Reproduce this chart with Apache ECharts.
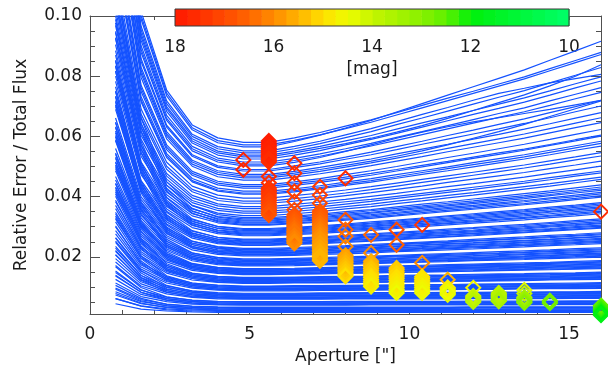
<!DOCTYPE html>
<html>
<head>
<meta charset="utf-8">
<script src="https://cdn.jsdelivr.net/npm/echarts@6/dist/echarts.min.js"></script>
<style>
  html, body { margin: 0; padding: 0; background: #fff; }
  #chart { width: 608px; height: 370px; }
</style>
</head>
<body>
<div id="chart"></div>
<script>
// Aperture radii at which every growth curve was measured [arcsec]
const apertures = [0.8, 1.6, 2.4, 3.2, 4.0, 4.8, 5.6, 6.4, 7.2, 8.0, 8.8, 9.6, 10.4, 11.2, 12.0, 12.8, 13.6, 14.4, 15.2, 16.0];

// Relative error / total flux per star, one row per star, one value per aperture
const curves = [
  [.1639,.0989,.0735,.0622,.0579,.0565,.0565,.0583,.0604,.0628,.0653,.0681,.0709,.0737,.0765,.0793,.0821,.0853,.0884,.0916],
  [.1682,.1015,.0754,.0638,.0595,.0580,.0580,.0595,.0613,.0634,.0655,.0679,.0703,.0727,.0750,.0774,.0798,.0825,.0852,.0879],
  [.1601,.0966,.0718,.0607,.0566,.0552,.0552,.0567,.0584,.0605,.0626,.0649,.0673,.0696,.0720,.0743,.0760,.0778,.0792,.0806],
  [.1581,.0954,.0709,.0600,.0559,.0545,.0545,.0559,.0576,.0596,.0616,.0639,.0661,.0684,.0707,.0730,.0752,.0778,.0803,.0829],
  [.1543,.0931,.0692,.0585,.0545,.0532,.0532,.0545,.0560,.0576,.0594,.0614,.0636,.0660,.0686,.0712,.0738,.0768,.0800,.0838],
  [.1523,.0919,.0683,.0578,.0538,.0525,.0525,.0538,.0553,.0572,.0590,.0610,.0631,.0652,.0673,.0693,.0714,.0737,.0761,.0784],
  [.1494,.0901,.0670,.0567,.0528,.0515,.0515,.0527,.0542,.0559,.0577,.0597,.0616,.0636,.0656,.0676,.0695,.0718,.0740,.0762],
  [.1473,.0889,.0660,.0559,.0521,.0508,.0508,.0520,.0534,.0551,.0568,.0587,.0606,.0625,.0644,.0663,.0682,.0703,.0725,.0746],
  [.1456,.0879,.0653,.0552,.0515,.0502,.0502,.0514,.0530,.0550,.0572,.0594,.0614,.0632,.0648,.0662,.0676,.0690,.0705,.0720],
  [.1407,.0849,.0631,.0534,.0497,.0485,.0485,.0496,.0509,.0524,.0539,.0556,.0574,.0591,.0608,.0625,.0643,.0662,.0682,.0701],
  [.1375,.0830,.0616,.0521,.0486,.0474,.0474,.0484,.0497,.0511,.0525,.0542,.0558,.0574,.0591,.0607,.0624,.0642,.0661,.0679],
  [.1357,.0819,.0608,.0515,.0480,.0468,.0468,.0478,.0490,.0504,.0518,.0534,.0552,.0572,.0594,.0616,.0640,.0666,.0692,.0718],
  [.1320,.0796,.0592,.0501,.0466,.0455,.0455,.0465,.0476,.0489,.0503,.0518,.0533,.0549,.0564,.0579,.0594,.0612,.0629,.0646],
  [.1276,.0770,.0572,.0484,.0451,.0440,.0440,.0449,.0460,.0473,.0486,.0500,.0515,.0530,.0544,.0559,.0574,.0590,.0607,.0623],
  [.1241,.0749,.0556,.0471,.0439,.0428,.0428,.0437,.0447,.0459,.0471,.0485,.0499,.0513,.0527,.0540,.0554,.0570,.0585,.0601],
  [.1212,.0732,.0543,.0460,.0428,.0418,.0418,.0426,.0436,.0448,.0460,.0473,.0486,.0499,.0513,.0526,.0539,.0554,.0569,.0584],
  [.1183,.0714,.0530,.0449,.0418,.0408,.0408,.0416,.0426,.0437,.0448,.0461,.0474,.0486,.0499,.0512,.0525,.0539,.0554,.0568],
  [.1146,.0691,.0514,.0435,.0405,.0395,.0395,.0403,.0412,.0422,.0433,.0445,.0457,.0469,.0481,.0493,.0505,.0519,.0532,.0546],
  [.1096,.0662,.0491,.0416,.0387,.0378,.0378,.0385,.0393,.0403,.0413,.0424,.0435,.0447,.0458,.0469,.0480,.0493,.0505,.0518],
  [.1064,.0642,.0477,.0404,.0376,.0367,.0367,.0374,.0382,.0391,.0401,.0411,.0422,.0433,.0443,.0454,.0465,.0477,.0489,.0501],
  [.1021,.0616,.0458,.0387,.0361,.0352,.0352,.0358,.0366,.0375,.0384,.0394,.0404,.0414,.0424,.0435,.0445,.0456,.0468,.0479],
  [.0977,.0590,.0438,.0371,.0345,.0337,.0337,.0343,.0350,.0359,.0367,.0377,.0386,.0396,.0405,.0415,.0425,.0435,.0446,.0457],
  [.0945,.0571,.0424,.0359,.0334,.0326,.0326,.0331,.0338,.0345,.0353,.0361,.0369,.0378,.0386,.0395,.0403,.0413,.0422,.0432],
  [.0925,.0558,.0415,.0351,.0327,.0319,.0319,.0324,.0330,.0337,.0345,.0353,.0361,.0369,.0377,.0385,.0393,.0403,.0412,.0421],
  [.0905,.0546,.0406,.0343,.0320,.0312,.0312,.0317,.0323,.0329,.0336,.0344,.0352,.0360,.0367,.0375,.0383,.0392,.0400,.0409],
  [.0885,.0534,.0397,.0336,.0313,.0305,.0305,.0310,.0315,.0322,.0328,.0336,.0343,.0351,.0358,.0365,.0373,.0381,.0390,.0398],
  [.0853,.0515,.0382,.0323,.0301,.0294,.0294,.0298,.0303,.0309,.0316,.0322,.0329,.0336,.0343,.0350,.0357,.0365,.0372,.0380],
  [.0835,.0504,.0374,.0317,.0295,.0288,.0288,.0292,.0297,.0303,.0309,.0315,.0322,.0329,.0335,.0342,.0349,.0356,.0364,.0371],
  [.0818,.0494,.0367,.0310,.0289,.0282,.0282,.0286,.0291,.0296,.0302,.0308,.0315,.0321,.0328,.0334,.0340,.0348,.0355,.0362],
  [.0800,.0483,.0359,.0304,.0283,.0276,.0276,.0280,.0284,.0290,.0295,.0301,.0307,.0313,.0319,.0325,.0331,.0338,.0345,.0352],
  [.0783,.0473,.0351,.0297,.0277,.0270,.0270,.0274,.0278,.0283,.0288,.0294,.0300,.0306,.0312,.0317,.0323,.0330,.0336,.0343],
  [.0751,.0453,.0337,.0285,.0265,.0259,.0259,.0262,.0266,.0271,.0276,.0281,.0286,.0292,.0297,.0303,.0308,.0314,.0320,.0326],
  [.0734,.0443,.0329,.0278,.0259,.0253,.0253,.0256,.0260,.0265,.0269,.0274,.0279,.0284,.0289,.0295,.0300,.0305,.0311,.0317],
  [.0719,.0434,.0322,.0273,.0254,.0248,.0248,.0251,.0255,.0259,.0264,.0268,.0273,.0278,.0283,.0288,.0293,.0299,.0304,.0310],
  [.0705,.0425,.0316,.0267,.0249,.0243,.0243,.0246,.0249,.0254,.0258,.0262,.0267,.0272,.0277,.0281,.0286,.0291,.0297,.0302],
  [.0690,.0417,.0309,.0262,.0244,.0238,.0238,.0241,.0244,.0248,.0252,.0257,.0261,.0266,.0270,.0275,.0280,.0285,.0290,.0295],
  [.0661,.0399,.0296,.0251,.0234,.0228,.0228,.0231,.0234,.0237,.0241,.0245,.0249,.0253,.0258,.0262,.0266,.0271,.0275,.0280],
  [.0647,.0390,.0290,.0245,.0229,.0223,.0223,.0226,.0229,.0232,.0236,.0240,.0244,.0248,.0252,.0256,.0260,.0264,.0269,.0273],
  [.0632,.0382,.0283,.0240,.0223,.0218,.0218,.0220,.0223,.0227,.0230,.0234,.0238,.0242,.0245,.0249,.0253,.0257,.0262,.0266],
  [.0618,.0373,.0277,.0234,.0218,.0213,.0213,.0215,.0218,.0221,.0224,.0228,.0231,.0235,.0239,.0242,.0246,.0250,.0254,.0258],
  [.0603,.0364,.0270,.0229,.0213,.0208,.0208,.0210,.0213,.0216,.0219,.0222,.0226,.0229,.0233,.0236,.0239,.0243,.0247,.0251],
  [.0589,.0355,.0264,.0223,.0208,.0203,.0203,.0205,.0208,.0210,.0213,.0217,.0220,.0223,.0226,.0230,.0233,.0237,.0240,.0244],
  [.0560,.0338,.0251,.0212,.0198,.0193,.0193,.0195,.0197,.0200,.0202,.0205,.0208,.0211,.0214,.0217,.0220,.0223,.0227,.0230],
  [.0545,.0329,.0244,.0207,.0193,.0188,.0188,.0190,.0192,.0194,.0197,.0200,.0202,.0205,.0208,.0211,.0214,.0217,.0220,.0223],
  [.0531,.0320,.0238,.0201,.0188,.0183,.0183,.0185,.0187,.0189,.0191,.0194,.0197,.0199,.0202,.0204,.0207,.0210,.0213,.0216],
  [.0516,.0312,.0231,.0196,.0182,.0178,.0178,.0180,.0182,.0184,.0186,.0189,.0191,.0194,.0196,.0199,.0201,.0204,.0207,.0210],
  [.0505,.0305,.0226,.0191,.0178,.0174,.0174,.0176,.0177,.0179,.0182,.0184,.0186,.0189,.0191,.0194,.0196,.0199,.0201,.0204],
  [.0493,.0298,.0221,.0187,.0174,.0170,.0170,.0171,.0173,.0175,.0177,.0180,.0182,.0184,.0187,.0189,.0191,.0194,.0196,.0199],
  [.0467,.0282,.0209,.0177,.0165,.0161,.0161,.0162,.0164,.0166,.0168,.0170,.0172,.0174,.0176,.0178,.0180,.0182,.0185,.0187],
  [.0455,.0275,.0204,.0173,.0161,.0157,.0157,.0158,.0160,.0162,.0163,.0165,.0167,.0169,.0171,.0173,.0175,.0178,.0180,.0182],
  [.0444,.0268,.0199,.0168,.0157,.0153,.0153,.0154,.0156,.0157,.0159,.0161,.0162,.0164,.0166,.0168,.0170,.0172,.0174,.0176],
  [.0432,.0261,.0194,.0164,.0153,.0149,.0149,.0150,.0151,.0153,.0155,.0156,.0158,.0160,.0162,.0163,.0165,.0167,.0169,.0171],
  [.0421,.0254,.0189,.0160,.0149,.0145,.0145,.0146,.0147,.0149,.0150,.0152,.0154,.0155,.0157,.0159,.0160,.0162,.0164,.0166],
  [.0409,.0247,.0183,.0155,.0145,.0141,.0141,.0142,.0143,.0145,.0146,.0148,.0149,.0151,.0152,.0154,.0156,.0157,.0159,.0161],
  [.0383,.0231,.0172,.0145,.0135,.0132,.0132,.0133,.0134,.0135,.0136,.0138,.0139,.0140,.0142,.0143,.0144,.0146,.0147,.0149],
  [.0371,.0224,.0166,.0141,.0131,.0128,.0128,.0129,.0130,.0131,.0132,.0133,.0135,.0136,.0137,.0138,.0140,.0141,.0143,.0144],
  [.0360,.0217,.0161,.0136,.0127,.0124,.0124,.0125,.0126,.0127,.0128,.0129,.0130,.0131,.0133,.0134,.0135,.0136,.0138,.0139],
  [.0348,.0210,.0156,.0132,.0123,.0120,.0120,.0121,.0122,.0123,.0124,.0125,.0126,.0127,.0128,.0129,.0130,.0131,.0133,.0134],
  [.0336,.0203,.0151,.0128,.0119,.0116,.0116,.0117,.0117,.0118,.0119,.0120,.0121,.0122,.0123,.0124,.0125,.0127,.0128,.0129],
  [.0325,.0196,.0146,.0123,.0115,.0112,.0112,.0113,.0113,.0114,.0115,.0116,.0117,.0118,.0119,.0120,.0121,.0123,.0124,.0125],
  [.0299,.0180,.0134,.0113,.0106,.0103,.0103,.0104,.0104,.0105,.0106,.0107,.0108,.0108,.0109,.0110,.0111,.0112,.0113,.0114],
  [.0287,.0173,.0129,.0109,.0101,.0099,.0099,.0100,.0100,.0101,.0102,.0102,.0103,.0104,.0105,.0106,.0106,.0107,.0108,.0109],
  [.0276,.0166,.0124,.0105,.0097,.0095,.0095,.0095,.0096,.0097,.0097,.0098,.0099,.0099,.0100,.0101,.0102,.0102,.0103,.0104],
  [.0264,.0159,.0118,.0100,.0093,.0091,.0091,.0091,.0092,.0092,.0093,.0094,.0094,.0095,.0096,.0096,.0097,.0098,.0098,.0099],
  [.0252,.0152,.0113,.0096,.0089,.0087,.0087,.0087,.0088,.0088,.0089,.0090,.0090,.0091,.0092,.0092,.0093,.0094,.0094,.0095],
  [.0229,.0138,.0103,.0087,.0081,.0079,.0079,.0079,.0080,.0080,.0081,.0081,.0081,.0082,.0082,.0083,.0083,.0084,.0084,.0085],
  [.0218,.0131,.0098,.0083,.0077,.0075,.0075,.0075,.0076,.0076,.0077,.0077,.0077,.0078,.0078,.0079,.0079,.0080,.0080,.0081],
  [.0206,.0124,.0092,.0078,.0073,.0071,.0071,.0071,.0072,.0072,.0072,.0073,.0073,.0073,.0074,.0074,.0075,.0075,.0076,.0076],
  [.0194,.0117,.0087,.0074,.0069,.0067,.0067,.0067,.0067,.0068,.0068,.0068,.0069,.0069,.0069,.0070,.0070,.0070,.0071,.0071],
  [.0183,.0110,.0082,.0069,.0065,.0063,.0063,.0063,.0063,.0064,.0064,.0064,.0065,.0065,.0065,.0066,.0066,.0066,.0067,.0067],
  [.0171,.0103,.0077,.0065,.0060,.0059,.0059,.0059,.0059,.0060,.0060,.0060,.0060,.0060,.0061,.0061,.0061,.0061,.0062,.0062],
  [.0148,.0089,.0066,.0056,.0052,.0051,.0051,.0051,.0051,.0052,.0052,.0052,.0052,.0052,.0053,.0053,.0053,.0053,.0054,.0054],
  [.0136,.0082,.0061,.0052,.0048,.0047,.0047,.0047,.0047,.0047,.0048,.0048,.0048,.0048,.0048,.0048,.0048,.0049,.0049,.0049],
  [.0125,.0075,.0056,.0047,.0044,.0043,.0043,.0043,.0043,.0043,.0044,.0044,.0044,.0044,.0044,.0044,.0044,.0045,.0045,.0045],
  [.0113,.0068,.0051,.0043,.0040,.0039,.0039,.0039,.0039,.0039,.0040,.0040,.0040,.0040,.0040,.0040,.0040,.0041,.0041,.0041],
  [.0096,.0058,.0043,.0036,.0034,.0033,.0033,.0033,.0033,.0033,.0033,.0033,.0033,.0033,.0034,.0034,.0034,.0034,.0034,.0034],
  [.0084,.0051,.0038,.0032,.0030,.0029,.0029,.0029,.0029,.0029,.0029,.0029,.0029,.0029,.0030,.0030,.0030,.0030,.0030,.0030],
  [.0073,.0044,.0033,.0028,.0026,.0025,.0025,.0025,.0025,.0025,.0025,.0025,.0025,.0025,.0025,.0025,.0026,.0026,.0026,.0026],
  [.0061,.0037,.0027,.0023,.0022,.0021,.0021,.0021,.0021,.0021,.0021,.0021,.0021,.0021,.0021,.0021,.0021,.0021,.0021,.0021],
  [.0044,.0026,.0020,.0017,.0015,.0015,.0015,.0015,.0015,.0015,.0015,.0015,.0015,.0015,.0015,.0015,.0015,.0015,.0015,.0015],
  // stars whose error falls more steeply over the smallest apertures
  [.1659,.1001,.0744,.0629,.0586,.0572,.0572,.0587,.0605,.0626,.0647,.0671,.0695,.0719,.0743,.0767,.0791,.0818,.0845,.0872],
  [.1560,.0942,.0699,.0592,.0551,.0538,.0538,.0551,.0567,.0585,.0603,.0624,.0645,.0665,.0686,.0707,.0728,.0751,.0775,.0798],
  [.1421,.0858,.0637,.0539,.0502,.0490,.0490,.0502,.0515,.0531,.0548,.0566,.0584,.0603,.0621,.0640,.0658,.0679,.0699,.0720],
  [.1340,.0809,.0601,.0508,.0474,.0462,.0462,.0472,.0484,.0498,.0512,.0528,.0544,.0560,.0576,.0592,.0608,.0626,.0644,.0662],
  [.1259,.0760,.0564,.0477,.0445,.0434,.0434,.0443,.0453,.0465,.0477,.0490,.0504,.0517,.0531,.0545,.0558,.0573,.0589,.0604],
  [.1195,.0721,.0536,.0453,.0422,.0412,.0412,.0420,.0430,.0442,.0453,.0466,.0480,.0493,.0506,.0519,.0532,.0547,.0562,.0577],
  [.1117,.0674,.0501,.0424,.0395,.0385,.0385,.0393,.0402,.0412,.0423,.0435,.0447,.0459,.0471,.0483,.0495,.0508,.0522,.0535],
  [.1044,.0630,.0468,.0396,.0369,.0360,.0360,.0366,.0374,.0383,.0391,.0401,.0411,.0421,.0431,.0441,.0451,.0463,.0474,.0485],
  [.1001,.0604,.0449,.0380,.0354,.0345,.0345,.0351,.0358,.0367,.0375,.0385,.0394,.0404,.0413,.0423,.0433,.0443,.0454,.0465],
  [.1122,.0660,.0449,.0370,.0340,.0330,.0330,.0335,.0342,.0350,.0357,.0366,.0375,.0383,.0392,.0401,.0410,.0419,.0429,.0439],
  [.1095,.0644,.0438,.0361,.0332,.0322,.0322,.0327,.0333,.0341,.0348,.0356,.0365,.0373,.0381,.0390,.0398,.0407,.0417,.0426],
  [.1071,.0630,.0428,.0353,.0324,.0315,.0315,.0320,.0326,.0333,.0340,.0348,.0356,.0364,.0371,.0379,.0387,.0396,.0405,.0414],
  [.1047,.0616,.0419,.0345,.0317,.0308,.0308,.0313,.0318,.0325,.0332,.0339,.0347,.0355,.0362,.0370,.0377,.0386,.0394,.0403],
  [.0989,.0582,.0396,.0326,.0300,.0291,.0291,.0295,.0300,.0306,.0312,.0319,.0326,.0333,.0339,.0346,.0353,.0361,.0368,.0376],
  [.0969,.0570,.0388,.0319,.0294,.0285,.0285,.0289,.0294,.0300,.0305,.0312,.0318,.0325,.0331,.0338,.0344,.0351,.0359,.0366],
  [.0949,.0558,.0379,.0312,.0287,.0279,.0279,.0283,.0288,.0293,.0299,.0305,.0311,.0317,.0323,.0330,.0336,.0343,.0350,.0357],
  [.0928,.0546,.0371,.0306,.0281,.0273,.0273,.0277,.0281,.0287,.0292,.0298,.0304,.0310,.0316,.0322,.0328,.0335,.0341,.0348],
  [.0870,.0512,.0348,.0287,.0264,.0256,.0256,.0259,.0263,.0268,.0273,.0278,.0283,.0288,.0294,.0299,.0304,.0310,.0316,.0322],
  [.0850,.0500,.0340,.0280,.0258,.0250,.0250,.0253,.0257,.0261,.0266,.0271,.0276,.0281,.0286,.0291,.0296,.0302,.0307,.0313],
  [.0833,.0490,.0333,.0274,.0252,.0245,.0245,.0248,.0252,.0256,.0260,.0265,.0270,.0274,.0279,.0284,.0289,.0294,.0300,.0305],
  [.0816,.0480,.0326,.0269,.0247,.0240,.0240,.0243,.0246,.0250,.0255,.0259,.0264,.0268,.0273,.0278,.0282,.0288,.0293,.0298],
  [.0765,.0450,.0306,.0252,.0232,.0225,.0225,.0228,.0231,.0234,.0238,.0242,.0246,.0250,.0254,.0258,.0262,.0267,.0271,.0276],
  [.0748,.0440,.0299,.0246,.0227,.0220,.0220,.0222,.0225,.0229,.0232,.0236,.0240,.0244,.0247,.0251,.0255,.0259,.0264,.0268],
  [.0731,.0430,.0292,.0241,.0221,.0215,.0215,.0217,.0220,.0223,.0227,.0230,.0234,.0238,.0241,.0245,.0249,.0253,.0257,.0261],
  [.0714,.0420,.0286,.0235,.0216,.0210,.0210,.0212,.0215,.0218,.0221,.0225,.0228,.0232,.0235,.0239,.0242,.0246,.0250,.0254],
  [.0700,.0412,.0280,.0231,.0212,.0206,.0206,.0208,.0211,.0214,.0217,.0220,.0223,.0227,.0230,.0233,.0237,.0240,.0244,.0248],
  [.0646,.0380,.0258,.0213,.0196,.0190,.0190,.0192,.0194,.0196,.0199,.0202,.0205,.0208,.0211,.0213,.0216,.0220,.0223,.0226],
  [.0629,.0370,.0252,.0207,.0191,.0185,.0185,.0187,.0189,.0191,.0194,.0196,.0199,.0202,.0204,.0207,.0210,.0213,.0216,.0219],
  [.0612,.0360,.0245,.0202,.0185,.0180,.0180,.0182,.0184,.0186,.0188,.0191,.0193,.0196,.0198,.0201,.0203,.0206,.0209,.0212],
  [.0598,.0352,.0239,.0197,.0181,.0176,.0176,.0178,.0179,.0182,.0184,.0186,.0189,.0191,.0194,.0196,.0199,.0201,.0204,.0207],
  [.0585,.0344,.0234,.0193,.0177,.0172,.0172,.0174,.0175,.0177,.0180,.0182,.0184,.0187,.0189,.0192,.0194,.0197,.0199,.0202],
  [.0541,.0318,.0216,.0178,.0164,.0159,.0159,.0160,.0162,.0164,.0165,.0167,.0169,.0171,.0173,.0175,.0177,.0180,.0182,.0184],
  [.0527,.0310,.0211,.0174,.0160,.0155,.0155,.0156,.0158,.0159,.0161,.0163,.0165,.0167,.0169,.0171,.0173,.0175,.0177,.0179],
  [.0513,.0302,.0205,.0169,.0156,.0151,.0151,.0152,.0154,.0155,.0157,.0159,.0160,.0162,.0164,.0166,.0168,.0170,.0172,.0174],
  [.0500,.0294,.0200,.0165,.0151,.0147,.0147,.0148,.0149,.0151,.0153,.0154,.0156,.0158,.0160,.0161,.0163,.0165,.0167,.0169],
  [.0486,.0286,.0194,.0160,.0147,.0143,.0143,.0144,.0145,.0147,.0148,.0150,.0151,.0153,.0154,.0156,.0158,.0159,.0161,.0163],
  [.0442,.0260,.0177,.0146,.0134,.0130,.0130,.0131,.0132,.0133,.0134,.0136,.0137,.0138,.0140,.0141,.0142,.0144,.0145,.0147],
  [.0428,.0252,.0171,.0141,.0130,.0126,.0126,.0127,.0128,.0129,.0130,.0131,.0133,.0134,.0135,.0136,.0138,.0139,.0141,.0142],
  [.0415,.0244,.0166,.0137,.0126,.0122,.0122,.0123,.0124,.0125,.0126,.0127,.0128,.0129,.0131,.0132,.0133,.0134,.0136,.0137],
  [.0401,.0236,.0160,.0132,.0122,.0118,.0118,.0119,.0120,.0121,.0122,.0123,.0124,.0125,.0126,.0127,.0128,.0129,.0131,.0132],
  [.0388,.0228,.0155,.0128,.0117,.0114,.0114,.0115,.0115,.0116,.0117,.0118,.0119,.0120,.0121,.0122,.0123,.0125,.0126,.0127],
  [.0343,.0202,.0137,.0113,.0104,.0101,.0101,.0102,.0102,.0103,.0104,.0104,.0105,.0106,.0107,.0108,.0108,.0109,.0110,.0111],
  [.0330,.0194,.0132,.0109,.0100,.0097,.0097,.0097,.0098,.0099,.0099,.0100,.0101,.0101,.0102,.0103,.0104,.0104,.0105,.0106],
  [.0316,.0186,.0126,.0104,.0096,.0093,.0093,.0093,.0094,.0095,.0095,.0096,.0097,.0097,.0098,.0099,.0100,.0100,.0101,.0102],
  [.0303,.0178,.0121,.0100,.0092,.0089,.0089,.0089,.0090,.0090,.0091,.0092,.0092,.0093,.0094,.0094,.0095,.0096,.0096,.0097],
  [.0262,.0154,.0105,.0086,.0079,.0077,.0077,.0077,.0078,.0078,.0079,.0079,.0079,.0080,.0080,.0081,.0081,.0082,.0082,.0083],
  [.0248,.0146,.0099,.0082,.0075,.0073,.0073,.0073,.0074,.0074,.0074,.0075,.0075,.0075,.0076,.0076,.0077,.0077,.0078,.0078],
  [.0235,.0138,.0094,.0077,.0071,.0069,.0069,.0069,.0070,.0070,.0070,.0071,.0071,.0071,.0072,.0072,.0073,.0073,.0074,.0074],
  [.0221,.0130,.0088,.0073,.0067,.0065,.0065,.0065,.0065,.0066,.0066,.0066,.0067,.0067,.0067,.0068,.0068,.0068,.0069,.0069],
  [.0207,.0122,.0083,.0068,.0063,.0061,.0061,.0061,.0061,.0062,.0062,.0062,.0063,.0063,.0063,.0064,.0064,.0064,.0065,.0065],
  [.0167,.0098,.0067,.0055,.0050,.0049,.0049,.0049,.0049,.0049,.0050,.0050,.0050,.0050,.0050,.0050,.0050,.0051,.0051,.0051],
  [.0153,.0090,.0061,.0050,.0046,.0045,.0045,.0045,.0045,.0045,.0046,.0046,.0046,.0046,.0046,.0046,.0046,.0047,.0047,.0047],
  [.0139,.0082,.0056,.0046,.0042,.0041,.0041,.0041,.0041,.0041,.0042,.0042,.0042,.0042,.0042,.0042,.0042,.0043,.0043,.0043],
  [.0105,.0062,.0042,.0035,.0032,.0031,.0031,.0031,.0031,.0031,.0031,.0031,.0031,.0031,.0032,.0032,.0032,.0032,.0032,.0032],
  [.0092,.0054,.0037,.0030,.0028,.0027,.0027,.0027,.0027,.0027,.0027,.0027,.0027,.0027,.0027,.0027,.0027,.0027,.0027,.0027],
  [.0078,.0046,.0031,.0026,.0024,.0023,.0023,.0023,.0023,.0023,.0023,.0023,.0023,.0023,.0023,.0023,.0023,.0023,.0023,.0023],
  [.0061,.0036,.0024,.0020,.0019,.0018,.0018,.0018,.0018,.0018,.0018,.0018,.0018,.0018,.0018,.0018,.0018,.0018,.0018,.0018]
];

// Chosen (best) aperture of each star, with its relative error and magnitude
const starAperture = [4.8, 5.6, 6.4, 7.2, 8.0, 8.8, 9.6, 10.4, 11.2, 12.0, 12.8, 13.6, 14.4, 16.0];
const starError = [
  [.0522,.0489],
  [.0585,.0578,.0572,.0566,.0560,.0555,.0550,.0545,.0540,.0535,.0530,.0525,.0520,.0515,.0467,.0446,
   .0429,.0423,.0417,.0411,.0405,.0399,.0393,.0387,.0381,.0375,.0369,.0363,.0357,.0351,.0345,.0339],
  [.0511,.0478,.0445,.0417,.0384,.0356,
   .0340,.0335,.0330,.0325,.0320,.0315,.0310,.0305,.0300,.0295,.0290,.0285,.0280,.0275,.0270,.0265,.0260,.0255,.0250,.0245],
  [.0433,.0405,.0378,.0352,.0347,.0342,.0337,.0332,.0327,.0322,.0317,.0312,.0307,.0302,.0297,.0292,.0287,.0282,.0277,
   .0272,.0267,.0262,.0257,.0252,.0247,.0242,.0237,.0232,.0227,.0222,.0217,.0212,.0207,.0202,.0197,.0192,.0187],
  [.0461,.0323,.0290,.0268,.0234,.0205,.0200,.0195,.0190,.0185,.0180,.0175,.0170,.0165,.0160,.0155,.0150,.0145,.0140,.0135],
  [.0273,.0213,.0185,.0179,.0173,.0167,.0161,.0155,.0149,.0143,.0137,.0131,.0125,.0119,.0113,.0107,.0101],
  [.0290,.0240,.0163,.0157,.0151,.0145,.0139,.0133,.0127,.0121,.0115,.0109,.0103,.0097,.0091,.0085,.0080],
  [.0306,.0180,.0134,.0128,.0122,.0116,.0110,.0104,.0098,.0092,.0086,.0080],
  [.0124,.0098,.0094,.0090,.0086,.0082,.0078,.0074],
  [.0097,.0070,.0066,.0062,.0058,.0054,.0050],
  [.0080,.0076,.0072,.0068,.0064,.0060,.0056,.0052],
  [.0090,.0078,.0066,.0062,.0058,.0054,.0050,.0047],
  [.0054,.0050,.0046],
  [.0350,.0038,.0034,.0030,.0026,.0022,.0018,.0014,.0010,.0006]
];
const starMag = [
  [17.8,17.7],
  [17.9,17.9,17.9,17.8,17.8,17.8,17.8,17.7,17.7,17.7,17.7,17.6,17.6,17.6,17.6,17.5,
   17.5,17.4,17.4,17.4,17.3,17.3,17.3,17.2,17.2,17.1,17.1,17.0,17.0,16.9,16.9,16.8],
  [17.6,17.5,17.4,17.3,17.2,17.0,
   16.9,16.8,16.8,16.7,16.7,16.6,16.6,16.5,16.5,16.4,16.4,16.3,16.3,16.3,16.2,16.2,16.1,16.1,16.0,16.0],
  [17.3,17.2,17.0,16.8,16.8,16.7,16.7,16.6,16.6,16.5,16.5,16.4,16.4,16.3,16.3,16.2,16.2,16.1,16.1,
   16.0,16.0,15.9,15.9,15.9,15.8,15.8,15.8,15.7,15.7,15.7,15.6,15.6,15.6,15.5,15.5,15.5,15.5],
  [17.6,16.8,16.5,16.3,16.0,15.8,15.7,15.7,15.6,15.6,15.5,15.5,15.4,15.4,15.3,15.3,15.2,15.2,15.1,15.0],
  [16.5,16.0,15.6,15.5,15.5,15.4,15.3,15.3,15.2,15.2,15.1,15.0,15.0,14.9,14.9,14.8,14.7],
  [17.0,16.6,15.3,15.2,15.2,15.1,15.1,15.0,15.0,14.9,14.9,14.8,14.8,14.7,14.7,14.6,14.5],
  [17.4,16.0,15.0,14.9,14.9,14.8,14.8,14.7,14.7,14.6,14.6,14.5],
  [15.5,14.8,14.7,14.7,14.6,14.5,14.5,14.4],
  [14.6,14.1,14.0,14.0,13.9,13.8,13.8],
  [13.9,13.8,13.8,13.7,13.7,13.6,13.5,13.5],
  [14.3,14.0,13.5,13.4,13.3,13.2,13.1,13.0],
  [12.9,12.8,12.7],
  [17.6,12.6,12.5,12.4,12.3,12.2,12.1,12.0,11.9,11.8]
];

// Axis ticks and labels
const yMajorTicks = [0.02, 0.04, 0.06, 0.08, 0.10];
const yMinorTicks = [0.005, 0.01, 0.015, 0.025, 0.03, 0.035, 0.045, 0.05, 0.055, 0.065, 0.07, 0.075, 0.085, 0.09, 0.095];
const xLabels = [0, 5, 10, 15];
const xTicks = [1, 2, 3, 4, 5, 6, 7, 8, 9, 10, 11, 12, 13, 14, 15];
const magTicks = [18, 16, 14, 12, 10];

// Colour table for magnitude 10 ... 18 in half-magnitude steps
const magColors = ['#00ff6a', '#00fb52', '#00f73a', '#00f323', '#00f00a', '#5ef000', '#88f000', '#a8f200',
  '#c4f500', '#eefc00', '#ffe000', '#ffb400', '#ff8c00', '#ff6600', '#ff4a00', '#ff3000', '#ff1800'];

const FONT = 'DejaVu Sans';
const TEXT = '#1a1a1a';
const AXIS = '#505050';
const LINE_BLUE = '#1452ff';

const stars = [];
starAperture.forEach((ap, c) => {
  starError[c].forEach((err, k) => stars.push([ap, err, starMag[c][k]]));
});

// colour-bar cells (quarter magnitude each)
const barCells = [];
for (let m = 10; m < 18; m += 0.25) barCells.push([m, m + 0.25, m + 0.125]);

const lineSeries = curves.map(c => ({
  type: 'line',
  xAxisIndex: 0,
  yAxisIndex: 0,
  data: c.map((v, i) => [apertures[i], v]),
  symbol: 'none',
  silent: true,
  clip: true,
  z: 2,
  lineStyle: { color: LINE_BLUE, width: 1.2 }
}));

const diamondSeries = {
  type: 'custom',
  xAxisIndex: 0,
  yAxisIndex: 0,
  data: stars,
  z: 3,
  silent: true,
  renderItem: (params, api) => {
    const p = api.coord([api.value(0), api.value(1)]);
    const h = 7;
    return {
      type: 'polygon',
      shape: { points: [[p[0], p[1] - h], [p[0] + h, p[1]], [p[0], p[1] + h], [p[0] - h, p[1]]] },
      style: { fill: 'none', stroke: api.visual('color'), lineWidth: 2 }
    };
  }
};

const barSeries = {
  type: 'custom',
  xAxisIndex: 2,
  yAxisIndex: 4,
  data: barCells,
  z: 5,
  silent: true,
  renderItem: (params, api) => {
    const a = api.coord([api.value(0), 0]);
    const b = api.coord([api.value(1), 1]);
    const x = Math.min(a[0], b[0]);
    return {
      type: 'rect',
      shape: { x: x, y: b[1], width: Math.abs(a[0] - b[0]) + 0.6, height: a[1] - b[1] },
      style: { fill: api.visual('color') }
    };
  }
};

const barFrame = {
  type: 'custom',
  xAxisIndex: 2,
  yAxisIndex: 4,
  data: [[10, 18]],
  z: 6,
  silent: true,
  renderItem: (params, api) => {
    const a = api.coord([api.value(1), 0]);
    const b = api.coord([api.value(0), 1]);
    return {
      type: 'rect',
      shape: { x: a[0], y: b[1], width: b[0] - a[0], height: a[1] - b[1] },
      style: { fill: 'none', stroke: '#3a3a3a', lineWidth: 1 }
    };
  }
};

const labelStyle = { fontFamily: FONT, fontSize: 17, color: TEXT };

const chart = echarts.init(document.getElementById('chart'), null, { renderer: 'canvas' });
chart.setOption({
  animation: false,
  backgroundColor: '#fff',
  grid: [
    { left: 90, right: 7, top: 16, bottom: 56 },
    { left: 175, width: 394, top: 9, height: 17 }
  ],
  visualMap: {
    type: 'continuous',
    show: false,
    min: 10,
    max: 18,
    dimension: 2,
    seriesIndex: [curves.length, curves.length + 1],
    inRange: { color: magColors }
  },
  xAxis: [
    {
      gridIndex: 0, type: 'value', position: 'bottom', min: 0, max: 16,
      name: 'Aperture ["]', nameLocation: 'middle', nameGap: 34,
      nameTextStyle: labelStyle,
      axisLine: { show: true, lineStyle: { color: AXIS, width: 1 } },
      axisTick: { show: true, inside: true, length: 4, customValues: xTicks, lineStyle: { color: AXIS } },
      axisLabel: { customValues: xLabels, margin: 12, ...labelStyle },
      splitLine: { show: false }
    },
    {
      gridIndex: 0, type: 'value', position: 'top', min: 0, max: 16,
      axisLine: { show: true, lineStyle: { color: AXIS, width: 1 } },
      axisTick: { show: true, inside: true, length: 4, customValues: xTicks, lineStyle: { color: AXIS } },
      axisLabel: { show: false },
      splitLine: { show: false }
    },
    {
      gridIndex: 1, type: 'value', position: 'bottom', min: 10, max: 18, inverse: true,
      name: '[mag]', nameLocation: 'middle', nameGap: 35,
      nameTextStyle: labelStyle,
      axisLine: { show: false },
      axisTick: { show: false },
      axisLabel: { customValues: magTicks, margin: 13, ...labelStyle },
      splitLine: { show: false }
    }
  ],
  yAxis: [
    {
      gridIndex: 0, type: 'value', position: 'left', min: 0.001, max: 0.1,
      name: 'Relative Error / Total Flux', nameLocation: 'middle', nameGap: 60,
      nameTextStyle: labelStyle,
      axisLine: { show: true, lineStyle: { color: AXIS, width: 1 } },
      axisTick: { show: true, inside: true, length: 10, customValues: yMajorTicks, lineStyle: { color: AXIS } },
      axisLabel: { customValues: yMajorTicks, margin: 8, formatter: v => v.toFixed(2), ...labelStyle },
      splitLine: { show: false }
    },
    {
      gridIndex: 0, type: 'value', position: 'left', min: 0.001, max: 0.1,
      axisLine: { show: false },
      axisTick: { show: true, inside: true, length: 5, customValues: yMinorTicks, lineStyle: { color: AXIS } },
      axisLabel: { show: false },
      splitLine: { show: false }
    },
    {
      gridIndex: 0, type: 'value', position: 'right', min: 0.001, max: 0.1,
      axisLine: { show: true, lineStyle: { color: AXIS, width: 1 } },
      axisTick: { show: true, inside: true, length: 10, customValues: yMajorTicks, lineStyle: { color: AXIS } },
      axisLabel: { show: false },
      splitLine: { show: false }
    },
    {
      gridIndex: 0, type: 'value', position: 'right', min: 0.001, max: 0.1,
      axisLine: { show: false },
      axisTick: { show: true, inside: true, length: 5, customValues: yMinorTicks, lineStyle: { color: AXIS } },
      axisLabel: { show: false },
      splitLine: { show: false }
    },
    {
      gridIndex: 1, type: 'value', min: 0, max: 1, show: false
    }
  ],
  series: [...lineSeries, diamondSeries, barSeries, barFrame]
});
</script>
</body>
</html>
